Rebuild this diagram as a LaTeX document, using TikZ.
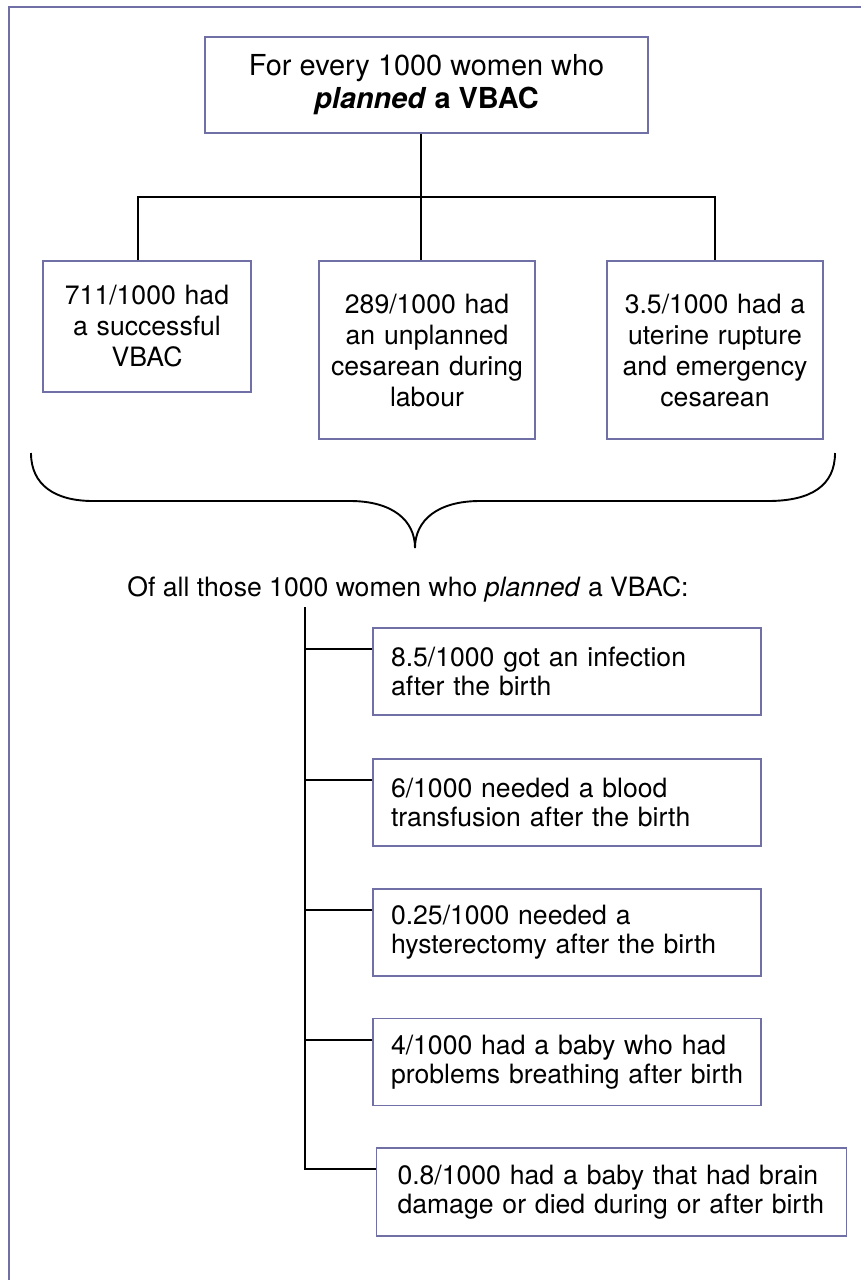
\documentclass[tikz,border=0pt]{standalone}
\usepackage{fontspec}
\setmainfont{TeX Gyre Heros}
\definecolor{boxline}{RGB}{112,112,166}
\begin{document}
\begin{tikzpicture}[x=0.5pt, y=-0.5pt, line width=0.95pt,
    every node/.style={draw=boxline, fill=white, inner sep=2pt},
    outcome/.style={align=center, font=\fontsize{13.3}{15.5}\selectfont},
    riskbox/.style={align=left, inner xsep=9pt, text width=176pt, minimum height=43.5pt, font=\fontsize{13.3}{14.5}\selectfont}]
    \useasboundingbox (0,0) rectangle (861,1280);
    \draw[boxline, line width=1pt] (9,1290) -- (9,7) -- (870,7);

    \node[align=center, minimum width=221.5pt, minimum height=48pt, font=\fontsize{14.45}{16.5}\selectfont] (plan) at (426.5,85) {For every 1000 women who\\\textbf{\textit{planned} a VBAC}};
    \node[outcome, text width=100pt, minimum height=65.5pt] (b1) at (147,326.5) {711/1000 had\\a successful\\VBAC};
    \node[outcome, text width=104pt, minimum height=89pt] (b2) at (427,350) {289/1000 had\\an unplanned\\cesarean during\\labour};
    \node[outcome, text width=104pt, minimum height=89pt] (b3) at (715,350) {3.5/1000 had a\\uterine rupture\\and emergency\\cesarean};

    \coordinate (split) at (421,197);
    \draw (plan.south -| split) -- (split);
    \draw ([xshift=-4.5pt]b1.north) |- (split) -| (b3.north);
    \draw (split) -- (split |- b2.north);

    \draw (31,453) .. controls (31,485) and (55,501) .. (93,501) -- (350,501)
        .. controls (392,501) and (415,520) .. (415,548)
        .. controls (415,520) and (438,501) .. (480,501) -- (768,501)
        .. controls (812,501) and (835,485) .. (835,453);

    \node[draw=none, fill=none, anchor=base, inner sep=0pt, font=\fontsize{13.3}{15.5}\selectfont] (ofall) at (408,596) {Of all those 1000 women who \textit{planned} a VBAC:};

    \node[riskbox] (r1) at (567,671.5) {8.5/1000 got an infection\\after the birth};
    \node[riskbox] (r2) at (567,802.5) {6/1000 needed a blood\\transfusion after the birth};
    \node[riskbox] (r3) at (567,932.5) {0.25/1000 needed a\\hysterectomy after the birth};
    \node[riskbox] (r4) at (567,1062) {4/1000 had a baby who had\\problems breathing after birth};
    \node[riskbox, text width=214pt, inner xsep=10.5pt, minimum height=44pt] (r5) at (611.5,1192) {0.8/1000 had a baby that had brain\\damage or died during or after birth};

    \coordinate (trunk) at (305,607);
    \draw (trunk) |- ([yshift=-11pt]r5.north west);
    \foreach \i in {1,...,4} {
        \coordinate (k\i) at ([yshift=-11pt]r\i.north west);
        \draw (k\i) -- (trunk |- k\i);
    }
\end{tikzpicture}
\end{document}
